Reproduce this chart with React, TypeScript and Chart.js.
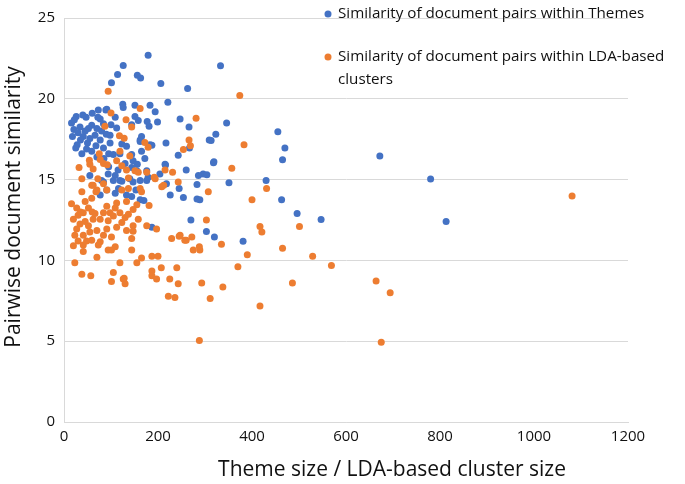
import React, { useEffect, useRef } from "react";
import { Chart, registerables } from "chart.js";

Chart.register(...registerables);

const SERIES_LABELS = [
  "Similarity of document pairs within Themes",
  "Similarity of document pairs within LDA-based clusters",
];
const SERIES_COLORS = ["#4472C4", "#ED7D31"];
const X_TITLE = "Theme size / LDA-based cluster size";
const Y_TITLE = "Pairwise document similarity";
const X_MIN = 0;
const X_MAX = 1200;
const X_STEP = 200;
const Y_MIN = 0;
const Y_MAX = 25;
const Y_STEP = 5;

// Series 1: Themes
const themeSize = [
  179, 126, 114, 101, 156, 163, 206, 263, 333, 221, 125, 126, 151, 183, 194, 199, 177, 181, 158, 73,
  89, 77, 109, 247, 266, 309, 217, 183, 162, 243, 172, 260, 216, 296, 304, 346, 323, 313, 455, 470,
  465, 319, 351, 430, 672, 780, 463, 496, 547, 813, 381, 289, 303, 320, 270, 283, 254, 226, 245, 283,
  187, 218, 16, 26, 47, 21, 34, 59, 18, 41, 66, 28, 50, 77, 38, 59, 84, 98, 91, 72,
  84, 112, 98, 144, 151, 165, 162, 187, 123, 133, 105, 119, 144, 165, 147, 156, 144, 155, 176, 179,
  162, 140, 119, 109, 94, 80, 55, 204, 215, 267, 286, 318, 52, 70, 22, 30, 45, 55, 35, 48,
  68, 80, 90, 25, 70, 85, 95, 100, 60, 40, 77, 91, 109, 116, 133, 144, 153, 162, 170, 147,
  176, 84, 105, 123, 95, 115, 130,
];
const themeSim = [
  22.7, 22.06, 21.5, 21.0, 21.46, 21.28, 20.94, 20.64, 22.04, 19.78, 19.66, 19.46, 19.6, 19.6, 19.2, 18.56, 18.6, 18.3, 18.65, 19.3,
  19.3, 18.75, 18.86, 18.75, 18.26, 17.45, 17.26, 17.15, 17.45, 16.5, 16.3, 15.6, 15.9, 15.35, 15.3, 18.5, 17.8, 17.42, 17.96, 16.95,
  16.23, 16.1, 14.8, 14.95, 16.46, 15.03, 13.75, 12.9, 12.53, 12.41, 11.19, 13.75, 11.79, 11.45, 12.5, 13.8, 13.9, 14.05, 14.45, 14.7,
  12.05, 14.75, 18.5, 18.9, 18.86, 18.1, 18.25, 18.36, 17.66, 17.66, 17.75, 17.15, 17.26, 17.45, 16.6, 16.76, 16.95, 17.26, 19.36, 18.86,
  18.46, 18.2, 17.75, 18.4, 18.9, 17.66, 17.36, 17.12, 17.2, 17.06, 16.56, 16.6, 16.56, 16.76, 16.16, 15.95, 15.75, 15.55, 15.55, 15.15,
  14.95, 15.05, 14.95, 15.25, 15.35, 14.95, 15.25, 15.35, 15.95, 16.95, 15.25, 16.05, 18.16, 18.16, 18.7, 17.9, 18.0, 17.55, 17.45, 16.9,
  17.1, 18.0, 17.8, 16.95, 16.4, 16.3, 16.6, 18.4, 19.1, 19.0, 14.05, 14.35, 14.15, 14.45, 14.05, 13.95, 14.35, 13.75, 13.7, 14.85,
  14.95, 14.85, 14.95, 14.9, 15.8, 15.6, 16.0,
];

// Series 2: LDA-based clusters
const ldaSize = [
  94, 162, 100, 132, 144, 87, 281, 266, 269, 254, 172, 179, 118, 128, 119, 140, 75, 54, 77, 84,
  92, 55, 62, 112, 123, 133, 151, 32, 38, 72, 137, 158, 176, 192, 215, 231, 243, 357, 383, 374,
  59, 70, 38, 16, 27, 45, 52, 41, 20, 34, 27, 52, 62, 23, 41, 55, 70, 20, 41, 59,
  77, 84, 77, 84, 91, 98, 94, 105, 109, 112, 119, 130, 123, 137, 147, 155, 158, 147, 112, 91,
  101, 73, 94, 109, 144, 144, 133, 41, 23, 70, 101, 119, 155, 165, 187, 200, 176, 197, 229, 247,
  257, 272, 275, 289, 288, 303, 335, 307, 208, 212, 38, 57, 105, 101, 126, 130, 187, 187, 197, 207,
  240, 225, 243, 222, 236, 293, 311, 338, 370, 390, 288, 128, 147, 245, 260, 62, 68, 59, 84, 91,
  123, 137, 162, 165, 133, 181, 194, 400, 431, 417, 421, 501, 465, 529, 569, 486, 417, 664, 694, 675,
  1081, 30, 45, 35, 60, 48, 66, 30,
];
const ldaSim = [
  20.46, 19.4, 19.12, 18.7, 18.26, 18.3, 18.8, 17.45, 17.1, 16.86, 17.3, 17.0, 17.72, 17.56, 16.76, 16.46, 16.6, 16.2, 16.25, 16.0,
  15.92, 15.95, 15.65, 16.16, 15.86, 15.6, 15.55, 15.75, 15.05, 15.05, 15.1, 15.45, 15.45, 15.15, 15.6, 15.45, 14.85, 15.71, 17.15, 20.2,
  14.65, 14.35, 14.25, 13.5, 13.25, 13.65, 13.25, 12.95, 12.55, 12.25, 11.95, 12.15, 12.55, 11.55, 11.55, 11.75, 11.85, 10.9, 10.95, 11.25,
  11.15, 11.55, 12.55, 12.95, 13.35, 12.95, 12.45, 12.75, 13.25, 13.55, 12.95, 12.65, 12.35, 12.85, 13.15, 13.45, 12.55, 12.15, 12.05, 11.95,
  11.45, 10.95, 10.65, 10.85, 11.35, 10.65, 11.85, 10.55, 9.85, 10.2, 10.65, 9.85, 9.85, 10.15, 10.25, 10.25, 12.15, 11.95, 11.35, 11.55,
  11.25, 11.45, 10.65, 10.65, 10.85, 12.5, 11.0, 14.25, 14.55, 14.65, 9.15, 9.05, 9.25, 8.7, 8.85, 8.55, 9.35, 9.05, 8.85, 9.55,
  9.55, 8.85, 8.55, 7.78, 7.7, 8.6, 7.65, 8.35, 9.6, 10.35, 5.04, 8.9, 11.8, 11.5, 11.25, 14.65, 14.25, 13.85, 14.75, 14.35,
  14.35, 14.45, 14.45, 14.25, 13.65, 13.4, 15.05, 13.75, 14.45, 12.1, 11.75, 12.1, 10.75, 10.25, 9.69, 8.6, 7.18, 8.73, 8.0, 4.94,
  13.99, 12.8, 12.4, 13.0, 13.0, 11.2, 12.9, 11.2,
];

const FONT = "'Open Sans', sans-serif";
const TEXT_COLOR = "#111";
const GRID_COLOR = "#d9d9d9";

function toPoints(xs: number[], ys: number[]) {
  return xs.map((x, i) => ({ x, y: ys[i] }));
}

const overlayPlugin = {
  id: "overlay",
  afterDraw(chart: any) {
    const ctx = chart.ctx as CanvasRenderingContext2D;
    ctx.save();
    // axis titles
    ctx.fillStyle = TEXT_COLOR;
    ctx.font = `21px ${FONT}`;
    ctx.textAlign = "center";
    ctx.textBaseline = "middle";
    ctx.fillText(X_TITLE, 392, 470);
    ctx.save();
    ctx.translate(14, 207);
    ctx.rotate(-Math.PI / 2);
    ctx.fillText(Y_TITLE, 0, 0);
    ctx.restore();

    // legend
    ctx.font = `15.2px ${FONT}`;
    ctx.textAlign = "left";
    const items = [
      { y: 14, lines: [SERIES_LABELS[0]] },
      { y: 57, lines: ["Similarity of document pairs within LDA-based", "clusters"] },
    ];
    items.forEach((it, i) => {
      ctx.fillStyle = SERIES_COLORS[i];
      ctx.beginPath();
      ctx.arc(328, it.y, 3.5, 0, Math.PI * 2);
      ctx.fill();
      ctx.fillStyle = TEXT_COLOR;
      it.lines.forEach((ln, j) => ctx.fillText(ln, 338, it.y + j * 23));
    });
    ctx.restore();
  },
};

export default function App() {
  const ref = useRef<HTMLCanvasElement | null>(null);
  useEffect(() => {
    if (!ref.current) return;
    const chart = new Chart(ref.current, {
      type: "scatter",
      data: {
        datasets: [
          {
            label: SERIES_LABELS[0],
            data: toPoints(themeSize, themeSim),
            backgroundColor: SERIES_COLORS[0],
            borderColor: SERIES_COLORS[0],
            borderWidth: 0,
            pointRadius: 3.5,
            order: 1,
          },
          {
            label: SERIES_LABELS[1],
            data: toPoints(ldaSize, ldaSim),
            backgroundColor: SERIES_COLORS[1],
            borderColor: SERIES_COLORS[1],
            borderWidth: 0,
            pointRadius: 3.5,
            order: 0,
          },
        ],
      },
      options: {
        animation: false,
        responsive: false,
        devicePixelRatio: 1,
        layout: { padding: { left: 0, top: 6, right: 57, bottom: 0 } },
        plugins: {
          legend: { display: false },
          tooltip: { enabled: false },
        },
        scales: {
          x: {
            type: "linear",
            min: X_MIN,
            max: X_MAX,
            ticks: {
              stepSize: X_STEP,
              color: TEXT_COLOR,
              font: { family: FONT, size: 15 },
              padding: 6,
              maxRotation: 0,
              callback: (v: any) => String(v),
            },
            grid: { display: false, drawTicks: false },
            border: { display: true, color: GRID_COLOR, width: 1 },
            afterFit: (s: any) => { s.height = 62; },
          },
          y: {
            type: "linear",
            min: Y_MIN,
            max: Y_MAX,
            ticks: {
              stepSize: Y_STEP,
              color: TEXT_COLOR,
              font: { family: FONT, size: 15 },
              padding: 9,
              callback: (v: any) => String(v),
            },
            grid: { color: GRID_COLOR, lineWidth: 1, drawTicks: false },
            border: { display: true, color: GRID_COLOR, width: 1 },
            afterFit: (s: any) => { s.width = 64; },
          },
        },
      },
      plugins: [overlayPlugin],
    });
    return () => chart.destroy();
  }, []);
  return (
    <div style={{ position: "absolute", left: 0, top: 0, width: 685, height: 484, background: "#fff" }}>
      <canvas ref={ref} width={685} height={484} />
    </div>
  );
}
